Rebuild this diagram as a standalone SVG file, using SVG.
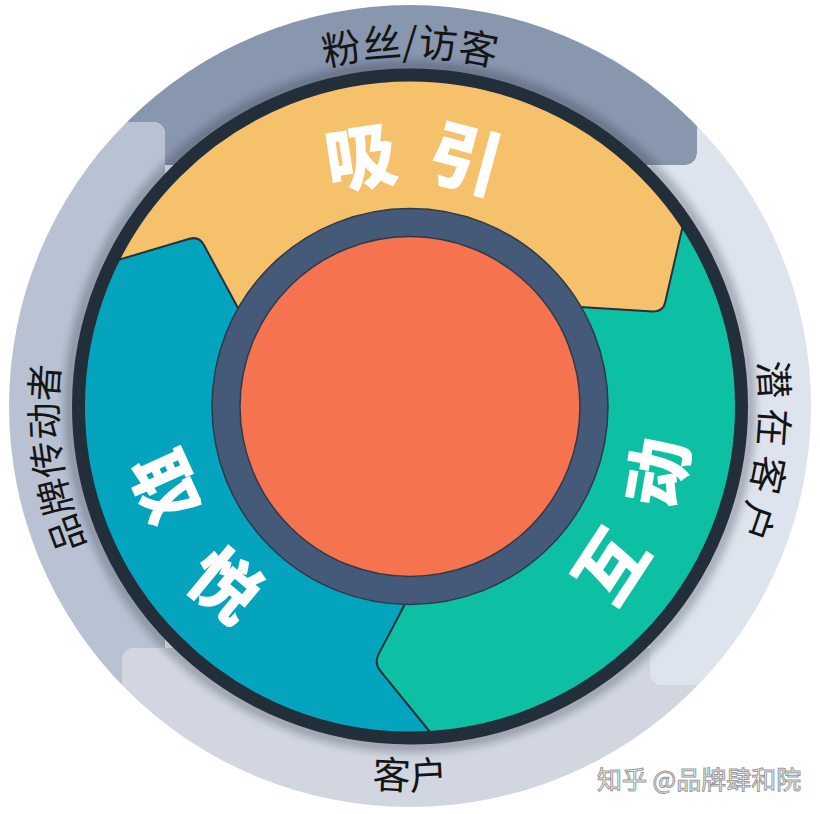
<svg xmlns="http://www.w3.org/2000/svg" width="820" height="814" viewBox="0 0 820 814">
<defs>
  <style>
    .piece { stroke: none; }
    .lbl { font-family: "Noto Sans CJK SC", "Noto Sans", sans-serif; font-weight: 400; fill: #151515; }
    .big { font-family: "Noto Sans CJK SC", "Noto Sans", sans-serif; font-weight: 900; fill: #ffffff; }
    .seg { stroke: #27313e; stroke-width: 2; stroke-linejoin: round; }
    .wm { font-family: "Noto Sans CJK SC", "Noto Sans", sans-serif; font-size: 25px; fill: #ffffff; stroke: #9a9a9a; stroke-width: 1; }
  </style>
  <clipPath id="outerClip"><circle cx="410" cy="406" r="401"/></clipPath>
  <clipPath id="bandClip"><circle cx="410" cy="406.5" r="326"/></clipPath>
  <filter id="blur" x="-20%" y="-20%" width="140%" height="140%"><feGaussianBlur stdDeviation="4"/></filter>
  <path id="arcTop" d="M 196.7 328.9 A 227 227 0 0 1 623.3 328.9" fill="none"/>
  <path id="arcBottom" d="M 133.3 357.7 A 281 281 0 1 0 686.7 357.7" fill="none"/>
  <path id="arcFans" d="M 106.9 231.5 A 350 350 0 0 1 713.1 231.5" fill="none"/>
  <path id="arcProspects" d="M 585.3 102.9 A 350.6 350.6 0 0 1 529.9 736" fill="none"/>
  <path id="arcPromoters" d="M 289.4 737.8 A 352.6 352.6 0 0 1 289.4 75.2" fill="none"/>
  <path id="arcCustomers" d="M 78.3 598 A 383 383 0 0 0 741.7 598" fill="none"/>
</defs>

<!-- Outer ring pieces -->
<g id="fans-visitors">
  <path class="piece" fill="#8896ae" clip-path="url(#outerClip)" d="M -10 -10 H 697 V 153 A 12 12 0 0 1 685 165 H 165 V 134 A 12 12 0 0 0 153 122 H -10 Z"/>
  <text class="lbl" font-size="39"><textPath href="#arcFans" startOffset="50%" text-anchor="middle">粉丝/访客</textPath></text>
</g>
<g id="prospects">
  <path class="piece" fill="#dee4ee" clip-path="url(#outerClip)" d="M 697 -10 H 830 V 685 H 662 A 12 12 0 0 1 650 673 V 165 H 685 A 12 12 0 0 0 697 153 Z"/>
  <text class="lbl" font-size="38"><textPath href="#arcProspects" startOffset="322" style="letter-spacing:8px">潜在客户</textPath></text>
</g>
<g id="customers">
  <path class="piece" fill="#d1d6e0" clip-path="url(#outerClip)" d="M 122 830 V 660 A 12 12 0 0 1 134 648 H 650 V 673 A 12 12 0 0 0 662 685 H 830 V 830 Z"/>
  <text class="lbl" font-size="38"><textPath href="#arcCustomers" startOffset="50%" text-anchor="middle">客户</textPath></text>
</g>
<g id="promoters">
  <path class="piece" fill="#b8c2d2" clip-path="url(#outerClip)" d="M -10 122 H 153 A 12 12 0 0 1 165 134 V 648 H 134 A 12 12 0 0 0 122 660 V 830 H -10 Z"/>
  <text class="lbl" font-size="37"><textPath href="#arcPromoters" startOffset="287">品牌传动者</textPath></text>
</g>

<!-- shadow around the dark ring -->
<circle cx="410" cy="406.5" r="340" fill="none" stroke="#1d2733" stroke-opacity="0.35" stroke-width="10" filter="url(#blur)" clip-path="url(#outerClip)"/>

<!-- Flywheel segments -->
<g id="attract">
  <circle cx="410" cy="406.5" r="326" fill="#f5c26b"/>
  <text class="big" font-size="72"><textPath href="#arcTop" startOffset="196" style="letter-spacing:22px">吸引</textPath></text>
</g>
<g id="delight">
  <path class="seg" fill="#04a4bf" clip-path="url(#bandClip)" d="M 410 406 L 238 308 L 203.8 244.8 Q 199 236 189.4 238.8 L 118 260 L -10 298 L -10 830 L 600 830 Z"/>
  <text class="big" font-size="69"><textPath href="#arcBottom" startOffset="106" style="letter-spacing:58px">取悦</textPath></text>
</g>
<g id="engage">
  <path class="seg" fill="#0dbfa3" clip-path="url(#bandClip)" d="M 410 406 L 405 604 L 378.6 654.1 Q 374 663 380.3 670.8 L 430 732 L 470 782 L 830 830 L 830 150 L 691 190 L 682 229 L 665.2 302.3 Q 663 312 653 311.4 L 580 307 Z"/>
  <text class="big" font-size="69"><textPath href="#arcBottom" startOffset="711" style="letter-spacing:46px">互动</textPath></text>
</g>

<!-- dark rim -->
<circle id="rim" cx="410" cy="406.5" r="331.5" fill="none" stroke="#232e3b" stroke-width="13"/>

<!-- hub -->
<g id="hub">
  <circle cx="410" cy="406.5" r="184" fill="none" stroke="#445a78" stroke-width="28"/>
  <circle cx="410" cy="406.5" r="198" fill="none" stroke="#2c3a4b" stroke-width="1.5"/>
  <circle cx="410" cy="406.5" r="170" fill="#f5734f" stroke="#2f3a49" stroke-width="1.5"/>
</g>

<g id="connectors"/>

<text id="watermark" class="wm" x="597" y="789">知乎 @品牌肆和院</text>
</svg>
